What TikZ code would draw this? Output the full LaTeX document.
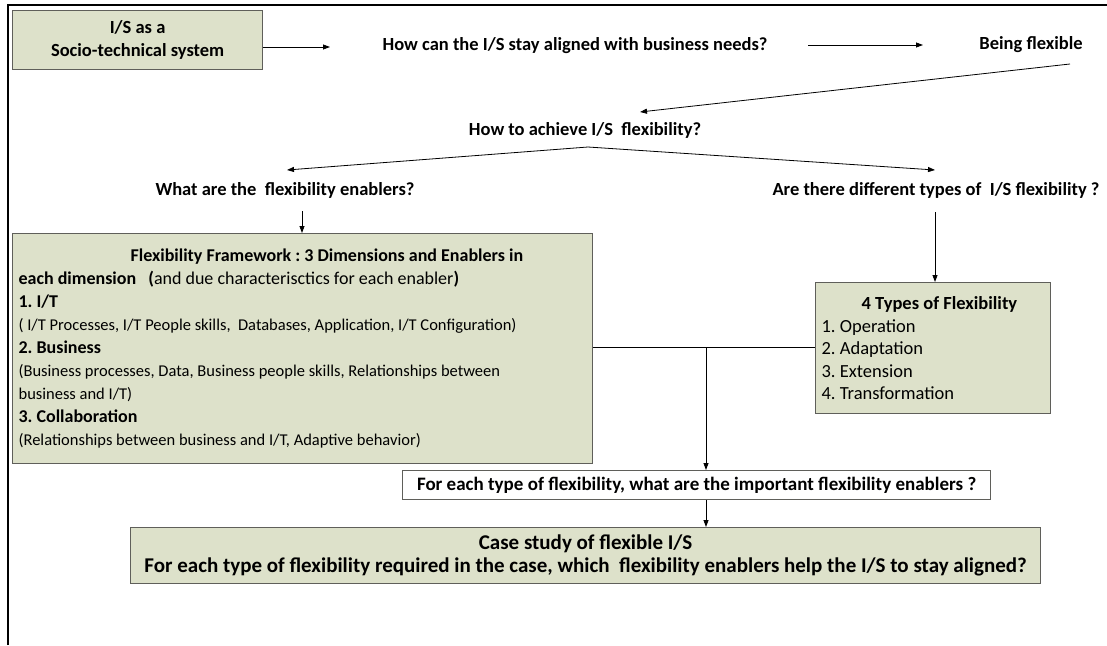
\documentclass[tikz,border=0pt]{standalone}
\usepackage{fontspec}
\setmainfont{Carlito}
\usetikzlibrary{arrows.meta}
\definecolor{boxfill}{RGB}{221,225,202}
\definecolor{boxline}{RGB}{95,95,90}
\begin{document}
\frenchspacing
\begin{tikzpicture}[x=1pt,y=-1pt,
  greenbox/.style={draw=boxline, line width=1.2pt, fill=boxfill, inner sep=0pt},
  whitebox/.style={draw=boxline, line width=1.2pt, fill=white, inner sep=0pt},
  qtext/.style={font=\bfseries\fontsize{18.5}{22}\selectfont, inner sep=1pt},
  arr/.style={draw=black, line width=0.8pt, -{Triangle[length=7pt,width=5pt]}},
  link/.style={draw=black, line width=0.8pt}]
\useasboundingbox (0,0) rectangle (1107,645);

% outer frame (top and left edges)
\draw[line width=2.6pt] (8,645) -- (8,5) -- (1107,5);

% top row
\node[greenbox, anchor=north west, minimum width=250pt, minimum height=59pt,
      align=flush center, font=\bfseries\fontsize{18.5}{23}\selectfont] (sys) at (12,10)
      {I/S as a\\Socio-technical system};
\node[qtext] (aligned) at (575,46) {How can the I/S stay aligned with business needs?};
\node[qtext] (flex) at (1031,45) {Being flexible};
\coordinate (a1) at (330,47);
\coordinate (a2s) at (808,45);
\coordinate (a2e) at (923,45);
\draw[arr] (sys.east |- a1) -- (a1);
\draw[arr] (a2s) -- (a2e);

% how to achieve flexibility
\node[qtext] (achieve) at (585,130) {How to achieve I/S\ \ flexibility?};
\coordinate (a3s) at (1070,64);
\coordinate (a3e) at (640,112);
\draw[arr] (a3s) -- (a3e);

\coordinate (fork) at (588,147);
\coordinate (forkL) at (287,170);
\coordinate (forkR) at (935,170);
\draw[arr] (fork) -- (forkL);
\draw[arr] (fork) -- (forkR);

\node[qtext] (enablers) at (285,190) {What are the\ \ flexibility enablers?};
\node[qtext] (types) at (936,190) {Are there different types of\ \ I/S flexibility ?};

% framework box
\node[greenbox, anchor=north west, minimum width=580pt, minimum height=230pt,
      text width=568pt, align=flush left, inner xsep=6pt,
      font=\fontsize{18}{23}\selectfont] (frame) at (12,233)
{\hspace*{112pt}\textbf{Flexibility Framework : 3 Dimensions and Enablers in}\\
 \textbf{each dimension\ \ \ (}and due characterisctics for each enabler\textbf{)}\\
 \textbf{1. I/T}\\
 {\fontsize{16.5}{23}\selectfont ( I/T Processes, I/T People skills,\ \ Databases, Application, I/T Configuration)}\\
 \textbf{2. Business}\\
 {\fontsize{16.5}{23}\selectfont (Business processes, Data, Business people skills, Relationships between}\\
 {\fontsize{16.5}{23}\selectfont business and I/T)}\\
 \textbf{3. Collaboration}\\
 {\fontsize{16.5}{23}\selectfont (Relationships between business and I/T, Adaptive behavior)}\\[16pt]};

\coordinate (e1) at (302,211);
\draw[arr] (e1) -- (frame.north -| e1);

% types of flexibility box
\node[greenbox, anchor=north west, minimum width=235pt, minimum height=131pt,
      text width=223pt, align=flush left, inner xsep=6pt,
      font=\fontsize{18.5}{22.5}\selectfont] (fourtypes) at (815,282)
{\hspace*{40pt}\textbf{4 Types of Flexibility}\\
 1. Operation\\
 2. Adaptation\\
 3. Extension\\
 4. Transformation};

\coordinate (t1) at (935,212);
\draw[arr] (t1) -- (fourtypes.north -| t1);

% joining line and the question below
\coordinate (join) at (706,347);
\draw[link] (frame.east |- join) -- (fourtypes.west |- join);

\node[whitebox, anchor=north west, minimum width=588pt, minimum height=29pt,
      font=\bfseries\fontsize{19}{22}\selectfont] (each) at (402,470)
      {For each type of flexibility, what are the important flexibility enablers ?};
\draw[arr] (join) -- (each.north -| join);

\node[greenbox, anchor=north west, minimum width=910pt, minimum height=56pt,
      align=flush center, font=\bfseries\fontsize{21}{23}\selectfont] (case) at (130,527)
      {Case study of flexible I/S\\
       For each type of flexibility required in the case, which\ \ flexibility enablers help the I/S to stay aligned?};
\draw[arr] (each.south -| join) -- (case.north -| join);
\end{tikzpicture}
\end{document}
